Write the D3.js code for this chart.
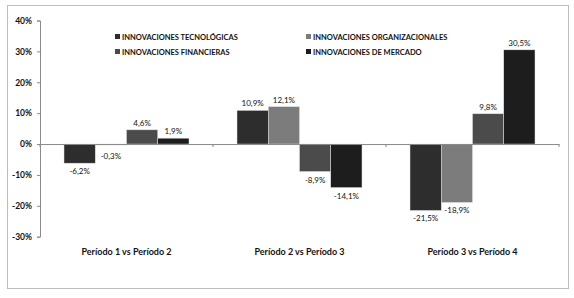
<!DOCTYPE html>
<html>
<head>
<meta charset="utf-8">
<script src="https://cdn.jsdelivr.net/npm/d3@7"></script>
<style>
  body { margin: 0; background: #fff; }
  svg { display: block; font-family: Lato, "Liberation Sans", sans-serif; }
</style>
</head>
<body>
<div class="chart"></div>
<script>
const periods = ['Período 1 vs Período 2', 'Período 2 vs Período 3', 'Período 3 vs Período 4'];
const series = ['INNOVACIONES TECNOLÓGICAS', 'INNOVACIONES ORGANIZACIONALES', 'INNOVACIONES FINANCIERAS', 'INNOVACIONES DE MERCADO'];
const tecnologicas = [-6.2, 10.9, -21.5];
const organizacionales = [-0.3, 12.1, -18.9];
const financieras = [4.6, -8.9, 9.8];
const mercado = [1.9, -14.1, 30.5];
const yTicks = [-30, -20, -10, 0, 10, 20, 30, 40];
const colors = ['#2d2d2d', '#7c7c7c', '#4b4b4b', '#1d1d1d'];

const _width = 574, _height = 298;
let values = [tecnologicas, organizacionales, financieras, mercado];

let svg = d3.select('.chart')
    .append('svg')
    .attr('width', _width)
    .attr('height', _height);

// outer frame
svg.append('rect')
    .attr('x', 7.5).attr('y', 5.5)
    .attr('width', 561).attr('height', 283)
    .attr('fill', '#fff')
    .attr('stroke', '#bdbdbd');

let x0 = d3.scaleBand().domain(periods).range([40, 559]);
let x1 = d3.scaleBand().domain(series).range([24, 149]);
let y = d3.scaleLinear().domain([-30, 40]).range([236.7, 20.5]);

// y axis
let yAxis = svg.append('g')
    .attr('transform', 'translate(40,0)')
    .call(d3.axisLeft(y).tickValues(yTicks).tickSize(3).tickFormat(d => d + '%'));
yAxis.select('.domain').attr('stroke', '#8a8a8a');
yAxis.selectAll('.tick line').attr('stroke', '#8a8a8a');
yAxis.selectAll('.tick text')
    .attr('x', -8)
    .attr('font-family', 'Lato')
    .attr('font-weight', 'bold')
    .attr('font-size', 8.5)
    .attr('fill', '#111');

// bars
let groups = svg.append('g')
    .selectAll('g')
    .data(periods)
    .enter().append('g')
    .attr('transform', d => `translate(${x0(d)},0)`);

groups.selectAll('rect')
    .data((p, i) => series.map((s, j) => ({s: s, j: j, v: values[j][i]})))
    .enter().append('rect')
    .attr('x', d => x1(d.s))
    .attr('width', x1.bandwidth())
    .attr('y', d => y(Math.max(0, d.v)))
    .attr('height', d => Math.abs(y(d.v) - y(0)))
    .attr('fill', d => colors[d.j])
    .attr('stroke', '#e0e0e0')
    .attr('stroke-width', 0.5);

groups.selectAll('text.val')
    .data((p, i) => series.map((s, j) => ({s: s, j: j, v: values[j][i]})))
    .enter().append('text')
    .attr('class', 'val')
    .attr('x', d => x1(d.s) + x1.bandwidth() / 2)
    .attr('y', d => d.v >= 0 ? y(d.v) - 4 : Math.max(y(d.v), y(0) + 4) + 11)
    .attr('text-anchor', 'middle')
    .attr('font-size', 8)
    .attr('fill', '#111')
    .text(d => d.v.toFixed(1).replace('.', ',') + '%');

// zero line with category ticks
let xAxis = svg.append('g')
    .attr('transform', `translate(0,${y(0)})`)
    .call(d3.axisBottom(x0).tickValues([]).tickSizeOuter(0));
xAxis.select('.domain').attr('stroke', '#8a8a8a');
xAxis.selectAll('line.sep')
    .data([40, ...periods.map(p => x0(p) + x0.bandwidth())])
    .enter().append('line')
    .attr('class', 'sep')
    .attr('x1', d => d).attr('x2', d => d)
    .attr('y1', 0).attr('y2', 3)
    .attr('stroke', '#8a8a8a');

// category labels
svg.append('g')
    .selectAll('text')
    .data(periods)
    .enter().append('text')
    .attr('x', d => x0(d) + x0.bandwidth() / 2)
    .attr('y', 255)
    .attr('text-anchor', 'middle')
    .attr('font-weight', 'bold')
    .attr('font-size', 9)
    .attr('fill', '#111')
    .text(d => d);

// legend
let legend = svg.append('g')
    .selectAll('g')
    .data(series)
    .enter().append('g')
    .attr('transform', (d, i) => `translate(${i % 2 ? 306 : 115},${i < 2 ? 37 : 52})`);
legend.append('rect')
    .attr('x', 0).attr('y', -3)
    .attr('width', 5).attr('height', 5)
    .attr('fill', (d, i) => colors[i]);
legend.append('text')
    .attr('x', 7)
    .attr('y', 2.5)
    .attr('font-weight', 'bold')
    .attr('font-size', 7.5)
    .attr('fill', '#111')
    .text(d => d);
</script>
</body>
</html>
